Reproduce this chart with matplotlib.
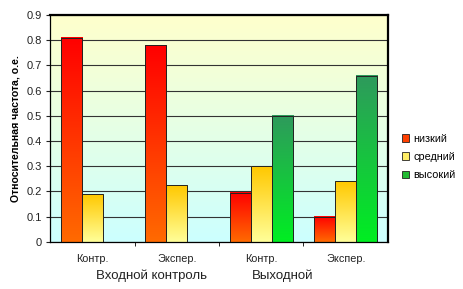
import numpy as np
import matplotlib
matplotlib.use('Agg')
import matplotlib.pyplot as plt
from matplotlib.colors import LinearSegmentedColormap
from matplotlib.patches import Patch

plt.rcParams['font.family'] = ['Liberation Sans', 'DejaVu Sans']

# data
categories = ['Контр.', 'Экспер.', 'Контр.', 'Экспер.']
groups = ['Входной контроль', 'Выходной']
levels = ['низкий', 'средний', 'высокий']
low = [0.81, 0.78, 0.195, 0.10]
mid = [0.19, 0.225, 0.30, 0.24]
high = [0.0, 0.0, 0.50, 0.66]
yticks = [0, 0.1, 0.2, 0.3, 0.4, 0.5, 0.6, 0.7, 0.8, 0.9]
ytick_labels = ['0', '0.1', '0.2', '0.3', '0.4', '0.5', '0.6', '0.7', '0.8', '0.9']

# (top colour, bottom colour) for each series
grads = [('#ff0000', '#ff6a00'), ('#ffc800', '#ffff99'), ('#2e9a5c', '#00ee22')]
legend_colors = ['#ff4000', '#ffee66', '#22bb33']

fig = plt.figure(figsize=(4.63, 2.89), dpi=100)
ax = fig.add_axes([0.108, 0.163, 0.730, 0.785])

# plot area background: pale yellow at top, pale cyan at bottom
bg = LinearSegmentedColormap.from_list('bg', ['#ccffff', '#ffffcc'])
ax.imshow(np.linspace(0, 1, 256).reshape(-1, 1), cmap=bg, aspect='auto',
          extent=[0, 1, 0, 1], origin='lower', transform=ax.transAxes, zorder=0)

x = np.arange(len(categories))
width = 0.25
series = [low, mid, high]
for i, vals in enumerate(series):
    cmap = LinearSegmentedColormap.from_list('g%d' % i, [grads[i][1], grads[i][0]])
    bars = ax.bar(x + (i - 1) * width, vals, width, facecolor='none',
                  edgecolor='#222222', linewidth=0.7, zorder=3)
    for b in bars:
        if b.get_height() <= 0:
            continue
        x0, w, h = b.get_x(), b.get_width(), b.get_height()
        ax.imshow(np.linspace(0, 1, 128).reshape(-1, 1), cmap=cmap,
                  aspect='auto', extent=[x0, x0 + w, 0, h], origin='lower',
                  zorder=2)

ax.set_xlim(-0.5, 3.5)
ax.set_ylim(0, 0.9)
ax.set_yticks(yticks)
ax.set_yticklabels(ytick_labels)
ax.yaxis.grid(True, color='#333333', linewidth=0.8, zorder=1)
ax.set_axisbelow(True)

ax.set_xticks(x)
ax.set_xticklabels(categories)
ax.set_xticks([0.5, 1.5, 2.5], minor=True)
ax.tick_params(axis='x', which='major', length=0, pad=9, labelsize=7.8, colors='#222222')
ax.tick_params(axis='x', which='minor', length=3, direction='out')
ax.tick_params(axis='y', length=3, direction='out', labelsize=8, colors='#222222', pad=3)

for s in ['top', 'right']:
    ax.spines[s].set_linewidth(1.6)
for s in ['left', 'bottom']:
    ax.spines[s].set_linewidth(0.9)

ax.set_ylabel('Относительная частота, о.е.', fontsize=7.6, fontweight='bold', labelpad=4)

fig.text(151 / 463, 1 - 276 / 289, groups[0], ha='center', va='center', fontsize=9.5, color='#222222')
fig.text(283 / 463, 1 - 276 / 289, groups[1], ha='center', va='center', fontsize=9.5, color='#222222')

handles = [Patch(facecolor=c, edgecolor='#222222', linewidth=0.6) for c in legend_colors]
fig.legend(handles, levels, loc='center left', bbox_to_anchor=(392 / 463, 1 - 157 / 289),
           frameon=False, fontsize=7.8, handlelength=0.7, handleheight=0.7,
           handletextpad=0.4, labelspacing=0.75)

fig.savefig('out.png', dpi=100)
